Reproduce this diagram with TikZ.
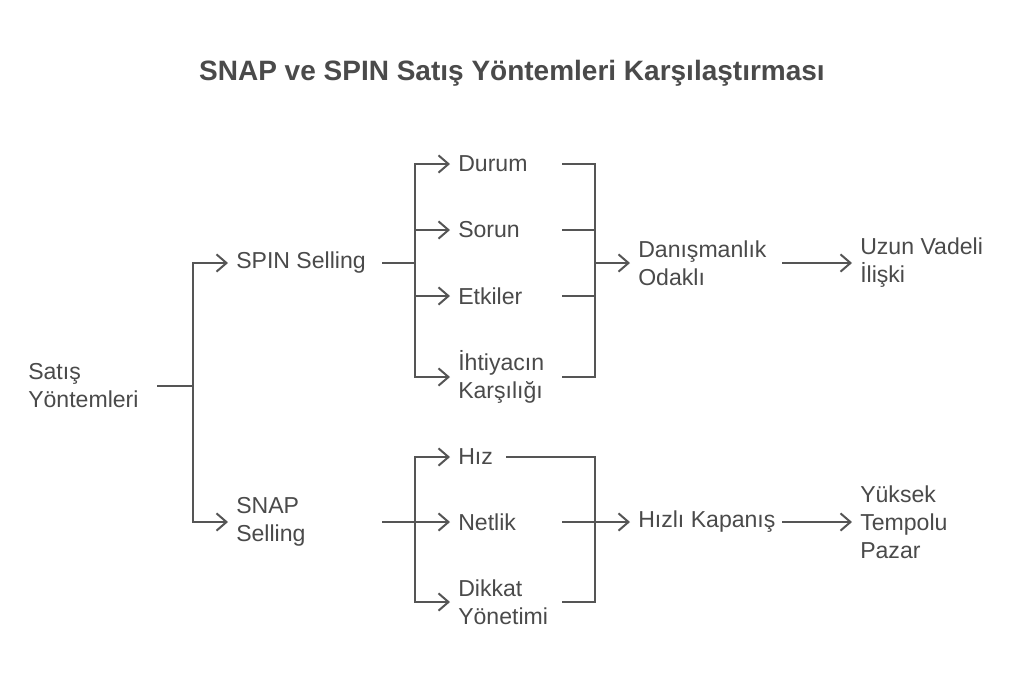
\documentclass[tikz,border=0pt]{standalone}
\usepackage{fontspec}
\setmainfont{Liberation Sans}
\usetikzlibrary{arrows.meta}
\definecolor{txt}{HTML}{4A4A4A}
\definecolor{ln}{HTML}{555555}
\tikzset{
  lbl/.style={anchor=west, inner sep=0pt, align=left, text=txt, font=\fontsize{17.3}{21}\selectfont},
  ttl/.style={inner sep=0pt, text=txt, font=\bfseries\fontsize{21}{25}\selectfont},
  conn/.style={draw=ln, line width=1.5pt, line join=miter},
  tip/.style={-{Straight Barb[length=7.5pt,width=13pt,line width=1.5pt]}, shorten >=6pt},
  btip/.style={{Straight Barb[length=7.5pt,width=13pt,line width=1.5pt]}-{Straight Barb[length=7.5pt,width=13pt,line width=1.5pt]}, shorten >=6pt, shorten <=6pt},
}
\begin{document}
\begin{tikzpicture}[x=0.75pt,y=-0.75pt]
\useasboundingbox[fill=white] (0,0) rectangle (1024,683);
\node[ttl] (title) at (512,73) {SNAP ve SPIN Satış Yöntemleri Karşılaştırması};

% junction columns
\coordinate (j0) at (193,0);
\coordinate (cL) at (382,0);
\coordinate (j1) at (415,0);
\coordinate (cR) at (562,0);
\coordinate (j2) at (595,0);
\coordinate (cA) at (782,0);

\node[lbl] (sat) at (28,386) {Satış\\Yöntemleri};
\node[lbl] (spin) at (236,263) {SPIN Selling};
\node[lbl] (snap) at (236,522) {SNAP\\Selling};

\node[lbl] (durum) at (458,164) {Durum};
\node[lbl] (sorun) at (458,230) {Sorun};
\node[lbl] (etki) at (458,296) {Etkiler};
\node[lbl] (ihti) at (458,377) {İhtiyacın\\Karşılığı};

\node[lbl] (hiz) at (458,457) {Hız};
\node[lbl] (net) at (458,522) {Netlik};
\node[lbl] (dik) at (458,602) {Dikkat\\Yönetimi};

\node[lbl] (dan) at (638,263) {Danışmanlık\\Odaklı};
\node[lbl] (hk) at (638,522) {Hızlı Kapanış};

\node[lbl] (uzun) at (860,263) {Uzun Vadeli\\İlişki};
\node[lbl] (yuk) at (860,522) {Yüksek\\Tempolu\\Pazar};

% level 0
\draw[conn, shorten <=14pt] (sat.east) -- (sat.east -| j0);
\draw[conn, btip] (spin.west) -- (spin.west -| j0) -- (snap.west -| j0) -- (snap.west);

% SPIN branch
\draw[conn] (spin.east -| cL) -- (spin.east -| j1);
\draw[conn, btip] (durum.west) -- (durum.west -| j1) -- (ihti.west -| j1) -- (ihti.west);
\draw[conn, tip] (sorun.west -| j1) -- (sorun.west);
\draw[conn, tip] (etki.west -| j1) -- (etki.west);

\draw[conn] (durum.east -| cR) -- (durum.east -| j2) -- (ihti.west -| j2) -- (ihti.west -| cR);
\draw[conn] (sorun.east -| cR) -- (sorun.east -| j2);
\draw[conn] (etki.east -| cR) -- (etki.east -| j2);
\draw[conn, tip] (dan.west -| j2) -- (dan.west);
\draw[conn, tip] (dan.west -| cA) -- (uzun.west);

% SNAP branch
\draw[conn] (snap.east -| cL) -- (snap.east -| j1);
\draw[conn, btip] (hiz.west) -- (hiz.west -| j1) -- (dik.west -| j1) -- (dik.west);
\draw[conn, tip] (net.west -| j1) -- (net.west);

\draw[conn, shorten <=10pt] (hiz.east) -- (hiz.east -| j2) -- (dik.west -| j2) -- (dik.west -| cR);
\draw[conn] (net.east -| cR) -- (net.east -| j2);
\draw[conn, tip] (hk.west -| j2) -- (hk.west);
\draw[conn, tip] (hk.west -| cA) -- (yuk.west);
\end{tikzpicture}
\end{document}
